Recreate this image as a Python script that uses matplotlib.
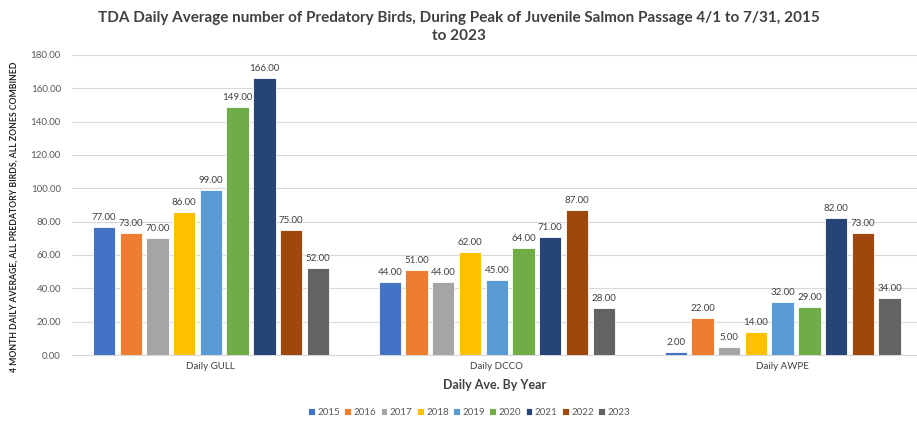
import numpy as np
import matplotlib
matplotlib.use('Agg')
import matplotlib.pyplot as plt

plt.rcParams['font.family'] = ['Lato', 'DejaVu Sans']

# Data
categories = ['Daily GULL', 'Daily DCCO', 'Daily AWPE']
years = ['2015', '2016', '2017', '2018', '2019', '2020', '2021', '2022', '2023']
values = {
    '2015': [77, 44, 2],
    '2016': [73, 51, 22],
    '2017': [70, 44, 5],
    '2018': [86, 62, 14],
    '2019': [99, 45, 32],
    '2020': [149, 64, 29],
    '2021': [166, 71, 82],
    '2022': [75, 87, 73],
    '2023': [52, 28, 34],
}
colors = ['#4472C4', '#ED7D31', '#A5A5A5', '#FFC000', '#5B9BD5',
          '#70AD47', '#264478', '#9E480E', '#636363']

fig = plt.figure(figsize=(9.17, 4.25), dpi=100)
ax = fig.add_axes([0.0785, 0.1647, 0.9215, 0.706])

x = np.arange(len(categories))
pitch = 0.0935
width = 0.078
for i, yr in enumerate(years):
    offs = (i - 4) * pitch
    bars = ax.bar(x + offs, values[yr], width, color=colors[i], label=yr,
                  edgecolor='white', linewidth=0.6, zorder=3)
    for b, v in zip(bars, values[yr]):
        ax.text(b.get_x() + b.get_width() / 2, v + 3, '%.2f' % v,
                ha='center', va='bottom', fontsize=7, color='#404040')

ax.set_xlim(-0.486, 2.47)
ax.set_ylim(0, 180)
ax.set_yticks(np.arange(0, 181, 20))
ax.set_yticklabels(['%.2f' % t for t in np.arange(0, 181, 20)])
ax.set_xticks(x)
ax.set_xticklabels(categories)
ax.tick_params(axis='y', length=0, labelsize=7, labelcolor='#595959', pad=8)
ax.tick_params(axis='x', length=0, labelsize=7, labelcolor='#404040', pad=5)
ax.grid(axis='y', color='#D9D9D9', linewidth=0.8, zorder=0)
for s in ['top', 'right', 'left']:
    ax.spines[s].set_visible(False)
ax.spines['bottom'].set_color('#D9D9D9')

ax.set_xlabel('Daily Ave. By Year', fontsize=9, fontweight='bold',
              color='#404040', labelpad=6)
ax.set_ylabel('4 MONTH DAILY AVERAGE, ALL PREDATORY BIRDS, ALL ZONES COMBINED',
              fontsize=6.2, fontweight='bold', color='#262626')
ax.yaxis.set_label_coords(-0.063, 0.46)

fig.text(0.5, 0.975, 'TDA Daily Average number of Predatory Birds, During Peak of Juvenile Salmon Passage 4/1 to 7/31, 2015\nto 2023',
         ha='center', va='top', fontsize=11, fontweight='bold', color='#404040',
         linespacing=1.4)

ax.legend(loc='lower center', bbox_to_anchor=(0.47, -0.235), ncol=9,
          frameon=False, fontsize=7, handlelength=0.7, handleheight=0.7,
          handletextpad=0.25, columnspacing=0.45, labelcolor='#595959')

fig.savefig('out.png', dpi=100)
